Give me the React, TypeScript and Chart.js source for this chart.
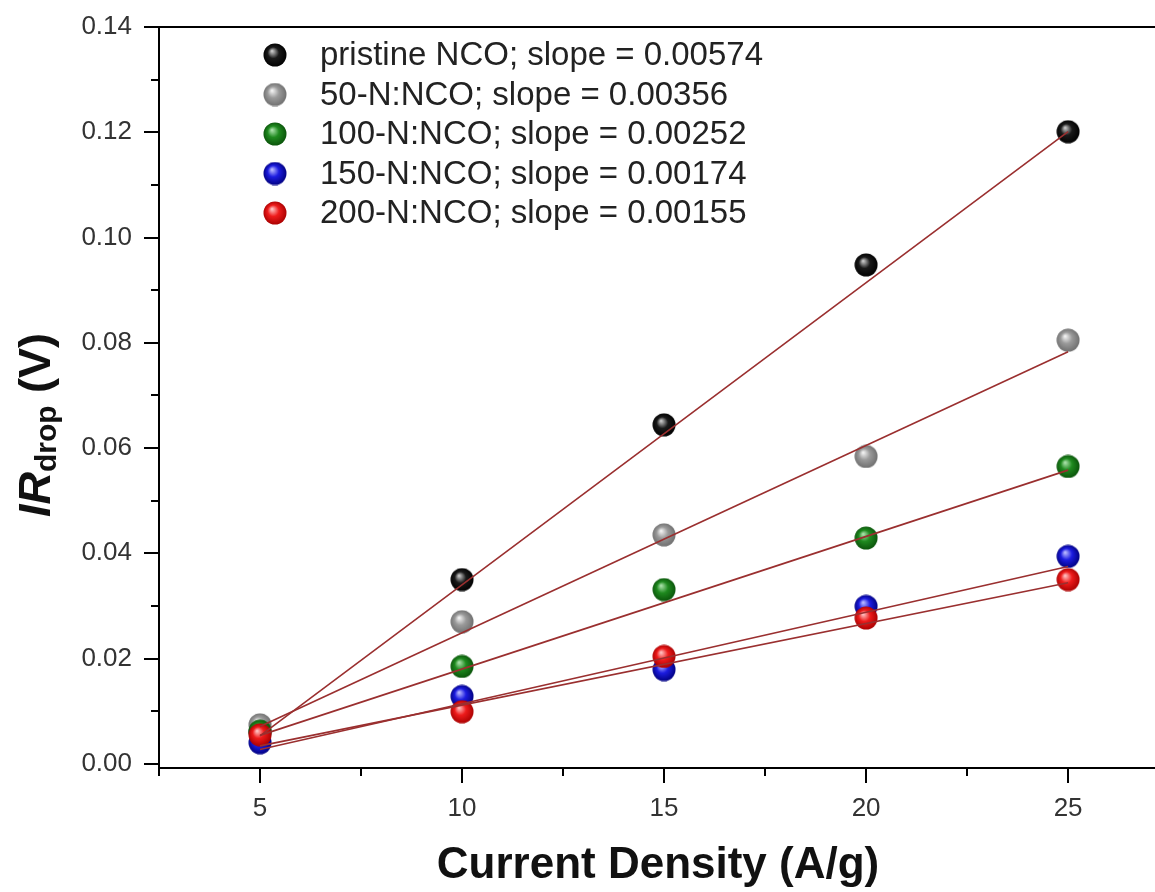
import React, { useEffect, useRef } from "react";
import { Chart, registerables } from "chart.js";

Chart.register(...registerables);

const xValues = [5, 10, 15, 20, 25];
const pristine = [0.006, 0.035, 0.0644, 0.0948, 0.1201];
const n50 = [0.0074, 0.027, 0.0435, 0.0584, 0.0805];
const n100 = [0.0062, 0.0185, 0.0331, 0.0429, 0.0565];
const n150 = [0.004, 0.0128, 0.0179, 0.0299, 0.0394];
const n200 = [0.0055, 0.0099, 0.0204, 0.0277, 0.035];

const fitX = [5, 25];
const fitStart = [0.0053, 0.0071, 0.0054, 0.0027, 0.0034];
const fitEnd = [0.1201, 0.0783, 0.0558, 0.0375, 0.0344];

const seriesLabels = [
  "pristine NCO; slope = 0.00574",
  "50-N:NCO; slope = 0.00356",
  "100-N:NCO; slope = 0.00252",
  "150-N:NCO; slope = 0.00174",
  "200-N:NCO; slope = 0.00155",
];

const xMajorTicks = [5, 10, 15, 20, 25];
const xMinorTicks = [2.5, 7.5, 12.5, 17.5, 22.5];
const yMajorTicks = [0, 0.02, 0.04, 0.06, 0.08, 0.1, 0.12, 0.14];
const yMinorTicks = [0.01, 0.03, 0.05, 0.07, 0.09, 0.11, 0.13];

const sphereColors = [
  { light: "#c8c8c8", base: "#1a1a1a", dark: "#000000" },
  { light: "#f2f2f2", base: "#9a9a9a", dark: "#6e6e6e" },
  { light: "#a8e0a8", base: "#1f8a1f", dark: "#0a520a" },
  { light: "#b8b8ff", base: "#1c1ce0", dark: "#00007e" },
  { light: "#ffc0c0", base: "#ee1c1c", dark: "#a80000" },
];

const FONT = "'Liberation Sans', Arial, Helvetica, sans-serif";

function makeSphere(c: { light: string; base: string; dark: string }) {
  const cv = document.createElement("canvas");
  cv.width = 24;
  cv.height = 24;
  const g = cv.getContext("2d")!;
  const grad = g.createRadialGradient(9, 8, 0.5, 12, 12, 12);
  grad.addColorStop(0, c.light);
  grad.addColorStop(0.45, c.base);
  grad.addColorStop(1, c.dark);
  g.fillStyle = grad;
  g.beginPath();
  g.arc(12, 12, 11.5, 0, Math.PI * 2);
  g.fill();
  return cv;
}

export default function App() {
  const ref = useRef<HTMLCanvasElement | null>(null);

  useEffect(() => {
    if (!ref.current) return;
    const spheres = sphereColors.map(makeSphere);
    const series = [pristine, n50, n100, n150, n200];
    const scatterOrders = [5, 4, 3, 2, 1];

    const scatterSets = series.map((vals, i) => ({
      type: "scatter" as const,
      label: seriesLabels[i],
      data: xValues.map((x, j) => ({ x, y: vals[j] })),
      pointStyle: spheres[i] as any,
      pointRadius: 12,
      showLine: false,
      order: scatterOrders[i],
    }));
    const fitSets = series.map((_, i) => ({
      type: "line" as const,
      label: "fit " + i,
      data: [
        { x: fitX[0], y: fitStart[i] },
        { x: fitX[1], y: fitEnd[i] },
      ],
      borderColor: "#9a2f2f",
      borderWidth: 1.6,
      pointRadius: 0,
      fill: false,
      order: 0,
    }));

    const decor = {
      id: "decor",
      afterDraw(chart: any) {
        const ctx = chart.ctx as CanvasRenderingContext2D;
        const xs = chart.scales.x;
        const ys = chart.scales.y;
        const { left, right, top, bottom } = chart.chartArea;
        ctx.save();
        ctx.strokeStyle = "#000";
        ctx.lineWidth = 2;
        ctx.beginPath();
        ctx.moveTo(left - 1, top);
        ctx.lineTo(right, top);
        for (const v of xMajorTicks) {
          const p = Math.round(xs.getPixelForValue(v));
          ctx.moveTo(p, bottom);
          ctx.lineTo(p, bottom + 15);
        }
        for (const v of xMinorTicks) {
          const p = Math.round(xs.getPixelForValue(v));
          ctx.moveTo(p, bottom);
          ctx.lineTo(p, bottom + 8);
        }
        for (const v of yMajorTicks) {
          const p = Math.round(ys.getPixelForValue(v));
          ctx.moveTo(left, p);
          ctx.lineTo(left - 15, p);
        }
        for (const v of yMinorTicks) {
          const p = Math.round(ys.getPixelForValue(v));
          ctx.moveTo(left, p);
          ctx.lineTo(left - 8, p);
        }
        ctx.stroke();

        // legend
        ctx.font = `33px ${FONT}`;
        ctx.fillStyle = "#222";
        ctx.textBaseline = "middle";
        ctx.textAlign = "left";
        for (let i = 0; i < seriesLabels.length; i++) {
          const cy = 55 + i * 39.5;
          ctx.drawImage(spheres[i], 275 - 12, cy - 12);
          ctx.fillText(seriesLabels[i], 320, cy + 1);
        }

        // y title
        ctx.translate(50, 425);
        ctx.rotate(-Math.PI / 2);
        ctx.fillStyle = "#111";
        ctx.textBaseline = "alphabetic";
        const big = `italic bold 45px ${FONT}`;
        const bigN = `bold 45px ${FONT}`;
        const sub = `bold 30px ${FONT}`;
        const parts = [
          { t: "I", f: big, dy: 0 },
          { t: "R", f: big, dy: 0 },
          { t: "drop", f: sub, dy: 6 },
          { t: " (V)", f: bigN, dy: 0 },
        ];
        let total = 0;
        for (const p of parts) {
          ctx.font = p.f;
          total += ctx.measureText(p.t).width;
        }
        let x = -total / 2;
        for (const p of parts) {
          ctx.font = p.f;
          ctx.fillText(p.t, x, p.dy);
          x += ctx.measureText(p.t).width;
        }
        ctx.restore();
      },
    };

    const chart = new Chart(ref.current, {
      type: "scatter",
      data: { datasets: [...fitSets, ...scatterSets] as any },
      options: {
        animation: false,
        responsive: false,
        layout: { padding: { top: 27, left: 0, right: 0, bottom: 0 } },
        plugins: { legend: { display: false }, tooltip: { enabled: false } },
        scales: {
          x: {
            type: "linear",
            min: 2.5,
            max: 27.2,
            afterBuildTicks: (s: any) => {
              s.ticks = xMajorTicks.map((v) => ({ value: v }));
            },
            afterFit: (s: any) => {
              s.height = 124;
              s.paddingLeft = 0;
              s.paddingRight = 0;
            },
            grid: { display: false, drawTicks: false },
            border: { display: true, color: "#000", width: 2 },
            ticks: {
              padding: 25,
              color: "#333",
              font: { family: FONT, size: 26 },
              maxRotation: 0,
              callback: (v: any) => String(v),
            },
            title: {
              display: true,
              text: "Current Density (A/g)",
              color: "#111",
              font: { family: FONT, size: 44, weight: "bold" },
              padding: { top: 0, bottom: 0 },
            },
          },
          y: {
            type: "linear",
            min: -0.0008,
            max: 0.14,
            afterBuildTicks: (s: any) => {
              s.ticks = yMajorTicks.map((v) => ({ value: v }));
            },
            afterFit: (s: any) => {
              s.width = 159;
              s.paddingTop = 0;
              s.paddingBottom = 0;
            },
            grid: { display: false, drawTicks: false },
            border: { display: true, color: "#000", width: 2 },
            ticks: {
              padding: 27,
              color: "#333",
              font: { family: FONT, size: 26 },
              callback: (v: any) => Number(v).toFixed(2),
            },
          },
        },
      },
      plugins: [decor],
    } as any);
    return () => chart.destroy();
  }, []);

  return (
    <div
      style={{
        position: "fixed",
        left: 0,
        top: 0,
        width: 1155,
        height: 892,
        overflow: "hidden",
        background: "#fff",
      }}
    >
      <canvas ref={ref} width={1170} height={892} style={{ width: 1170, height: 892, display: "block" }} />
    </div>
  );
}
